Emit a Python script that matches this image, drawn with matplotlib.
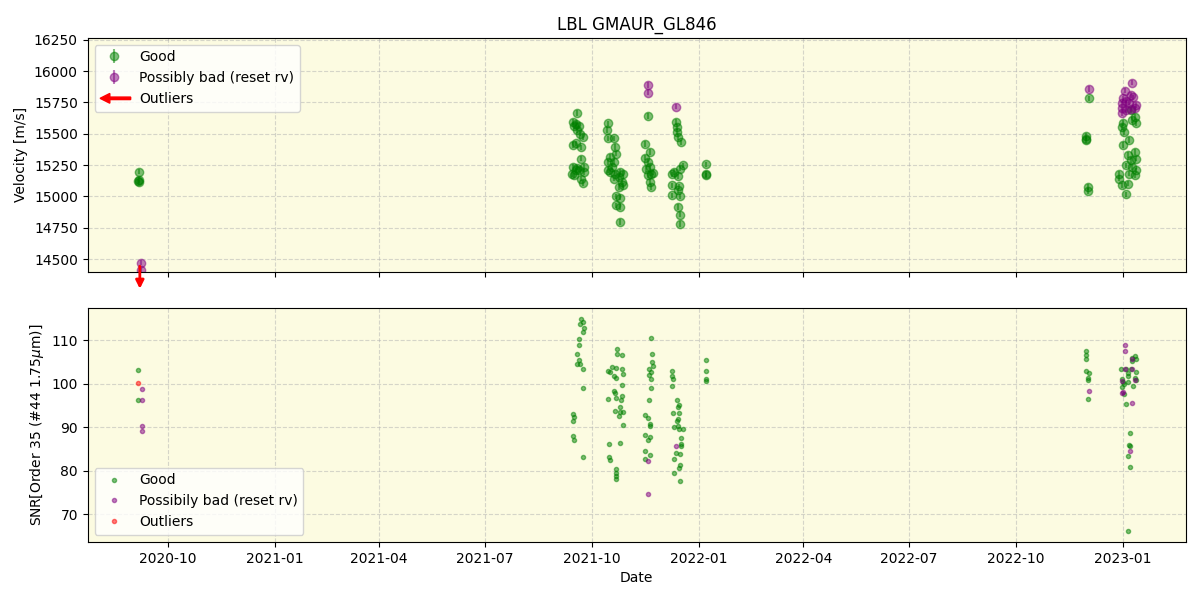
import matplotlib
matplotlib.use("Agg")
import matplotlib.pyplot as plt
import matplotlib.patches as mpatches
from matplotlib.legend_handler import HandlerPatch
import pandas as pd

# ---------------- data: velocity panel ----------------
vel_good_dates = (
    ['2020-09-06', '2020-09-06', '2020-09-06', '2020-09-05']
    + ['2021-09-18', '2021-09-15', '2021-09-17', '2021-09-20', '2021-09-16', '2021-09-18',
       '2021-09-21', '2021-09-23', '2021-09-15', '2021-09-17', '2021-09-22', '2021-09-22',
       '2021-09-15', '2021-09-17', '2021-09-20', '2021-09-24', '2021-09-16', '2021-09-22',
       '2021-09-23', '2021-09-14', '2021-09-18', '2021-09-24']
    + ['2021-10-15', '2021-10-14', '2021-10-15', '2021-10-20', '2021-10-21', '2021-10-22',
       '2021-10-17', '2021-10-20', '2021-10-15', '2021-10-17', '2021-10-21', '2021-10-25',
       '2021-10-28', '2021-10-24', '2021-10-20', '2021-10-27', '2021-10-28', '2021-10-24',
       '2021-10-22', '2021-10-25', '2021-10-22', '2021-10-25', '2021-10-25', '2021-10-18',
       '2021-10-15']
    + ['2021-11-18', '2021-11-16', '2021-11-20', '2021-11-16', '2021-11-18', '2021-11-20',
       '2021-11-21', '2021-11-18', '2021-11-20', '2021-11-21', '2021-11-17', '2021-11-23']
    + ['2021-12-12', '2021-12-13', '2021-12-13', '2021-12-14', '2021-12-17', '2021-12-18',
       '2021-12-16', '2021-12-11', '2021-12-09', '2021-12-14', '2021-12-09', '2021-12-15',
       '2021-12-09', '2021-12-16', '2021-12-14', '2021-12-14', '2021-12-16', '2021-12-16']
    + ['2022-01-07', '2022-01-07', '2022-01-07']
    + ['2022-12-03', '2022-11-30', '2022-11-30', '2022-12-02', '2022-12-02', '2022-11-30']
    + ['2023-01-08', '2023-01-11', '2023-01-09', '2023-01-12', '2023-01-01', '2022-12-31',
       '2023-01-02', '2023-01-06', '2023-01-01', '2023-01-05', '2023-01-11', '2023-01-12',
       '2023-01-08', '2023-01-04', '2023-01-09', '2023-01-12', '2023-01-06', '2023-01-11',
       '2022-12-29', '2022-12-29', '2022-12-31', '2023-01-05', '2023-01-04']
)
vel_good_values = (
    [15197, 15130, 15112, 15120]
    + [15667, 15595, 15580, 15560, 15560, 15528, 15500, 15475, 15408, 15422, 15390, 15301,
       15234, 15208, 15213, 15194, 15168, 15141, 15106, 15175, 15230, 15235]
    + [15582, 15528, 15462, 15462, 15394, 15341, 15314, 15274, 15274, 15194, 15181, 15194,
       15181, 15154, 15141, 15114, 15088, 15074, 15000, 14989, 14927, 14914, 14794, 15234,
       15210]
    + [15640, 15416, 15354, 15309, 15274, 15234, 15181, 15168, 15114, 15074, 15220, 15190]
    + [15595, 15555, 15515, 15475, 15430, 15248, 15221, 15194, 15176, 15160, 15088, 15080,
       15007, 15000, 15047, 14914, 14855, 14781]
    + [15256, 15168, 15180]
    + [15782, 15480, 15448, 15074, 15042, 15460]
    + [15688, 15635, 15608, 15582, 15587, 15555, 15515, 15448, 15408, 15328, 15354, 15301,
       15288, 15248, 15234, 15208, 15181, 15168, 15181, 15141, 15088, 15101, 15015]
)
vel_good_err = 22

vel_bad_dates = ['2020-09-08', '2020-09-08',
                 '2021-11-18', '2021-11-18', '2021-12-12', '2022-12-03',
                 '2023-01-09', '2023-01-03', '2023-01-08', '2023-01-01', '2023-01-10',
                 '2023-01-04', '2022-12-31', '2023-01-06', '2023-01-12', '2023-01-11',
                 '2023-01-08', '2022-12-31', '2022-12-31', '2023-01-04']
vel_bad_values = [14471, 14409,
                  15889, 15827, 15715, 15857,
                  15907, 15843, 15808, 15782, 15790, 15763, 15742, 15747, 15728, 15702,
                  15694, 15702, 15662, 15688]
vel_bad_err = 22

outlier_dates = ['2020-09-07']

# ---------------- data: SNR panel ----------------
snr_good_dates = (
    ['2020-09-05', '2020-09-05']
    + ['2021-09-22', '2021-09-23', '2021-09-21', '2021-09-24', '2021-09-23', '2021-09-20',
       '2021-09-20', '2021-09-18', '2021-09-20', '2021-09-18', '2021-09-21', '2021-09-23',
       '2021-09-23', '2021-09-15', '2021-09-16', '2021-09-15', '2021-09-15', '2021-09-16',
       '2021-09-23']
    + ['2021-10-23', '2021-10-23', '2021-10-27', '2021-10-18', '2021-10-15', '2021-10-17',
       '2021-10-22', '2021-10-27', '2021-10-28', '2021-10-20', '2021-10-22', '2021-10-27',
       '2021-10-20', '2021-10-21', '2021-10-15', '2021-10-26', '2021-10-27', '2021-10-22',
       '2021-10-21', '2021-10-25', '2021-10-25', '2021-10-28', '2021-10-24', '2021-10-28',
       '2021-10-16', '2021-10-25', '2021-10-16', '2021-10-17', '2021-10-22', '2021-10-22',
       '2021-10-22', '2021-10-22']
    + ['2021-11-21', '2021-11-22', '2021-11-22', '2021-11-23', '2021-11-19', '2021-11-21',
       '2021-11-19', '2021-11-21', '2021-11-21', '2021-11-19', '2021-11-16', '2021-11-18',
       '2021-11-20', '2021-11-20', '2021-11-16', '2021-11-20', '2021-11-18', '2021-11-16',
       '2021-11-20', '2021-11-16']
    + ['2021-12-09', '2021-12-09', '2021-12-10', '2021-12-09', '2021-12-13', '2021-12-15',
       '2021-12-14', '2021-12-10', '2021-12-15', '2021-12-14', '2021-12-13', '2021-12-11',
       '2021-12-14', '2021-12-15', '2021-12-18', '2021-12-17', '2021-12-17', '2021-12-17',
       '2021-12-12', '2021-12-16', '2021-12-11', '2021-12-16', '2021-12-15', '2021-12-11',
       '2021-12-16']
    + ['2022-01-07', '2022-01-07', '2022-01-07', '2022-01-07']
    + ['2022-11-30', '2022-11-30', '2022-11-30', '2022-11-30', '2022-12-03', '2022-12-02',
       '2022-12-02', '2022-12-02']
    + ['2023-01-11', '2023-01-09', '2023-01-12', '2023-01-09', '2022-12-30', '2023-01-04',
       '2023-01-08', '2023-01-05', '2023-01-12', '2022-12-31', '2023-01-01', '2023-01-05',
       '2023-01-11', '2023-01-12', '2023-01-10', '2022-12-31', '2023-01-02', '2023-01-05',
       '2023-01-02', '2023-01-04', '2023-01-07', '2023-01-06', '2023-01-07', '2023-01-05',
       '2023-01-07', '2023-01-05']
)
snr_good_values = (
    [103.1, 96.3]
    + [115.0, 114.3, 113.7, 112.9, 112.0, 110.2, 108.9, 106.8, 105.4, 104.5, 104.5, 103.4,
       99.0, 93.1, 92.4, 91.4, 88.1, 87.1, 83.1]
    + [107.9, 106.9, 106.6, 103.9, 103.0, 102.6, 103.7, 103.4, 102.2, 101.8, 101.4, 99.8,
       98.4, 97.8, 96.5, 96.3, 97.3, 96.7, 93.8, 94.6, 93.4, 93.6, 92.7, 90.6, 86.2, 86.4,
       83.1, 82.5, 80.3, 79.5, 78.7, 78.0]
    + [110.6, 106.8, 105.0, 104.1, 103.4, 102.6, 102.0, 101.1, 99.0, 96.3, 92.8, 92.1,
       90.8, 90.2, 88.3, 87.7, 87.0, 84.6, 83.7, 82.8]
    + [103.0, 101.8, 101.2, 99.5, 96.3, 95.1, 94.6, 93.3, 93.3, 91.9, 91.5, 90.0, 90.2,
       89.6, 89.6, 87.6, 86.2, 85.8, 84.1, 83.9, 82.6, 81.4, 80.6, 79.5, 77.6]
    + [105.4, 103.0, 101.1, 100.7]
    + [107.6, 106.6, 105.8, 103.0, 102.4, 101.4, 100.9, 96.5]
    + [106.4, 106.0, 105.8, 105.3, 103.5, 103.4, 103.4, 102.4, 102.6, 101.1, 100.5, 101.8,
       101.4, 100.9, 99.5, 99.2, 99.9, 100.3, 97.6, 95.4, 88.7, 86.0, 85.7, 83.5, 80.9, 66.1]
)

snr_bad_dates = ['2020-09-09', '2020-09-09', '2020-09-09', '2020-09-09',
                 '2021-11-18', '2021-11-18', '2021-12-12', '2022-12-03',
                 '2023-01-03', '2023-01-03', '2023-01-09', '2023-01-03', '2023-01-09',
                 '2022-12-31', '2023-01-11', '2023-01-01', '2022-12-31', '2023-01-09',
                 '2023-01-07']
snr_bad_values = [98.8, 96.3, 90.3, 89.2,
                  82.3, 74.7, 85.7, 98.4,
                  108.9, 107.6, 105.8, 103.4, 103.4, 100.7, 100.9, 98.0, 97.9, 95.6, 84.5]

snr_out_dates = ['2020-09-05']
snr_out_values = [100.1]

# ---------------- plotting ----------------
bg = '#fcfbe1'
fig, (ax1, ax2) = plt.subplots(2, 1, figsize=(12, 6), dpi=100, sharex=True)
fig.subplots_adjust(left=0.073, right=0.988, top=0.937, bottom=0.097, hspace=0.155)

for ax in (ax1, ax2):
    ax.set_facecolor(bg)
    ax.grid(True, linestyle='--', alpha=0.5)
    ax.set_axisbelow(True)

g = ax1.errorbar(pd.to_datetime(vel_good_dates), vel_good_values, yerr=vel_good_err,
                 fmt='o', color='green', alpha=0.5, label='Good')
b = ax1.errorbar(pd.to_datetime(vel_bad_dates), vel_bad_values, yerr=vel_bad_err,
                 fmt='o', color='purple', alpha=0.5, label='Possibly bad (reset rv)')
ax1.set_ylim(14399, 16265)
ax1.set_ylabel('Velocity [m/s]')
ax1.set_title('LBL GMAUR_GL846')

for d in pd.to_datetime(outlier_dates):
    ax1.annotate('', xy=(d, -0.085), xycoords=('data', 'axes fraction'),
                 xytext=(d, 0.035), textcoords=('data', 'axes fraction'),
                 arrowprops=dict(arrowstyle='-|>', color='red', lw=2, mutation_scale=12),
                 annotation_clip=False)

arrow_proxy = mpatches.FancyArrow(0, 0, -1, 0, color='red')


def make_arrow(legend, orig_handle, xdescent, ydescent, width, height, fontsize):
    return mpatches.FancyArrow(width + 2, 0.5 * height, -width - 2, 0,
                               width=1.8, head_width=7, head_length=7,
                               length_includes_head=True, color='red')


ax1.legend([g, b, arrow_proxy], ['Good', 'Possibly bad (reset rv)', 'Outliers'],
           loc='upper left', handler_map={mpatches.FancyArrow: HandlerPatch(patch_func=make_arrow)})

ax2.plot(pd.to_datetime(snr_good_dates), snr_good_values, '.', color='green', alpha=0.5,
         label='Good')
ax2.plot(pd.to_datetime(snr_bad_dates), snr_bad_values, '.', color='purple', alpha=0.5,
         label='Possibily bad (reset rv)')
ax2.plot(pd.to_datetime(snr_out_dates), snr_out_values, '.', color='red', alpha=0.5,
         label='Outliers')
ax2.set_ylabel(r'SNR[Order 35 (#44 1.75$\mu$m)]')
ax2.set_xlabel('Date')
ax2.legend(loc='lower left')

fig.savefig('out.png', dpi=100)
